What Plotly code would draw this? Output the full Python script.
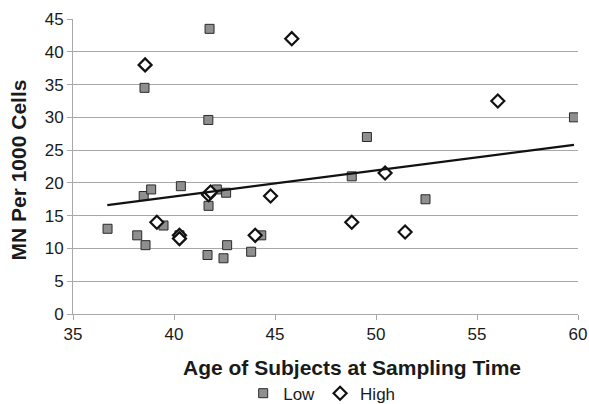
import plotly.graph_objects as go

# Low group (gray squares)
low_age = [41.76, 38.54, 41.7, 49.55, 59.8, 36.71, 38.5, 38.87, 40.34, 38.18, 38.59, 39.48,
           40.27, 42.12, 42.58, 41.71, 41.66, 42.45, 42.63, 43.82, 44.32, 48.8, 52.45]
low_mn = [43.5, 34.5, 29.6, 27.0, 30.0, 13.0, 18.0, 19.0, 19.5, 12.0, 10.5, 13.5,
          12.0, 19.0, 18.5, 16.5, 9.0, 8.5, 10.5, 9.5, 12.0, 21.0, 17.5]

# High group (open diamonds)
high_age = [38.57, 45.83, 56.03, 39.15, 40.27, 40.27, 41.71, 41.81, 44.78, 44.02, 50.45, 48.8, 51.44]
high_mn = [38.0, 42.0, 32.5, 14.0, 12.0, 11.5, 18.2, 18.6, 18.0, 12.0, 21.5, 14.0, 12.5]

# Linear trendline endpoints
trend_age = [36.7, 59.8]
trend_mn = [16.6, 25.8]

x_ticks = [35, 40, 45, 50, 55, 60]
y_ticks = [0, 5, 10, 15, 20, 25, 30, 35, 40, 45]
x_title = "Age of Subjects at Sampling Time"
y_title = "MN Per 1000 Cells"

font_family = "Liberation Sans, Arial, sans-serif"
text_color = "#1a1a1a"
grid_color = "#a8a8a8"

fig = go.Figure()
fig.add_trace(go.Scatter(
    x=low_age, y=low_mn, mode="markers", name="Low",
    marker=dict(symbol="square", size=9, color="#8f8f8f",
                line=dict(color="#2a2a2a", width=1)),
))
fig.add_trace(go.Scatter(
    x=high_age, y=high_mn, mode="markers", name="High",
    marker=dict(symbol="diamond", size=10, color="white",
                line=dict(color="#111111", width=2.2)),
))
fig.add_trace(go.Scatter(
    x=trend_age, y=trend_mn, mode="lines", showlegend=False,
    line=dict(color="#111111", width=2.2),
))

fig.update_layout(
    width=589, height=404,
    margin=dict(l=73, r=11, t=19, b=90, autoexpand=False),
    paper_bgcolor="white", plot_bgcolor="white",
    font=dict(family=font_family, size=17, color=text_color),
    showlegend=True,
    legend=dict(orientation="h", x=0.337, xanchor="left",
                y=-0.27, yanchor="middle",
                font=dict(size=17), itemwidth=30, tracegroupgap=0,
                bgcolor="rgba(0,0,0,0)"),
    xaxis=dict(
        range=[35, 60], tickvals=x_ticks, ticktext=[str(v) for v in x_ticks],
        showgrid=False, zeroline=False, automargin=False,
        showline=True, linecolor=grid_color, linewidth=1,
        ticks="outside", ticklen=5, tickcolor=grid_color,
        tickfont=dict(size=17),
    ),
    yaxis=dict(
        range=[0, 45], tickvals=y_ticks, ticktext=[str(v) for v in y_ticks],
        showgrid=True, gridcolor=grid_color, gridwidth=1, zeroline=False,
        automargin=False,
        showline=True, linecolor=grid_color, linewidth=1,
        ticks="outside", ticklen=5, tickcolor=grid_color,
        tickfont=dict(size=17),
    ),
    annotations=[
        dict(text="<b>%s</b>" % x_title, xref="paper", yref="paper",
             x=0.553, y=-0.18, xanchor="center", yanchor="middle",
             showarrow=False, font=dict(size=21)),
        dict(text="<b>%s</b>" % y_title, xref="paper", yref="paper",
             x=-0.108, y=0.488, xanchor="center", yanchor="middle", textangle=-90,
             showarrow=False, font=dict(size=21)),
    ],
)

fig.write_html("out.html", config={"displayModeBar": False},
               post_script="document.body.style.margin='0px';")
